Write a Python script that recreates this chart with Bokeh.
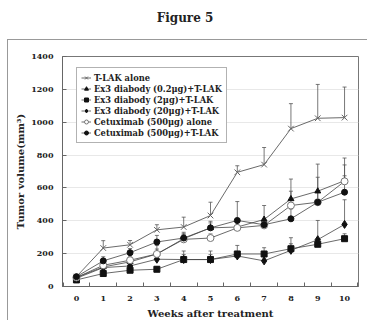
from bokeh.plotting import figure
from bokeh.layouts import column
from bokeh.models import Range1d, FixedTicker, Legend, LegendItem, Div
from bokeh.embed import file_html
from bokeh.resources import INLINE

weeks = list(range(11))
week_labels = [str(w) for w in weeks]
y_ticks = [0, 200, 400, 600, 800, 1000, 1200, 1400]

tlak_alone = [60, 234, 254, 345, 362, 432, 695, 742, 961, 1024, 1028]
tlak_alone_err = [10, 45, 26, 31, 60, 81, 40, 104, 152, 206, 186]

ex3_02 = [55, 119, 150, 198, 291, 357, 362, 408, 533, 580, 644]
ex3_02_err = [8, 20, 20, 52, 30, 30, 30, 85, 121, 165, 138]

ex3_2 = [40, 79, 99, 105, 164, 164, 198, 198, 230, 257, 291]
ex3_2_err = [8, 15, 12, 15, 52, 52, 52, 38, 67, 30, 30]

ex3_20 = [50, 115, 125, 166, 164, 164, 186, 156, 220, 285, 378]
ex3_20_err = [8, 20, 20, 25, 30, 30, 25, 25, 40, 117, 150]

cetux_alone = [55, 129, 160, 198, 287, 295, 357, 372, 493, 513, 640]
cetux_alone_err = [8, 20, 25, 30, 30, 25, 30, 30, 87, 60, 100]

cetux_tlak = [60, 156, 206, 271, 295, 357, 402, 376, 412, 513, 574]
cetux_tlak_err = [8, 25, 25, 40, 35, 40, 115, 30, 60, 152, 100]

FONT = "DejaVu Serif"

title_div = Div(
    text=("<div style=\"width:370px;text-align:center;padding-top:10px;font-family:'DejaVu Serif';"
          "font-weight:bold;font-size:12px;color:#222222;\">Figure 5</div>"),
    width=370, height=39, margin=0)

p = figure(width=360, height=281, output_backend="svg", toolbar_location=None,
           x_range=Range1d(-0.52, 10.52), y_range=Range1d(0, 1400),
           min_border_left=54, min_border_right=10, min_border_top=16, min_border_bottom=33)
p.margin = (0, 0, 0, 7)
p.styles = {"border-left": "1.5px solid #999999", "border-top": "1.5px solid #999999"}

p.background_fill_color = "white"
p.border_fill_color = "white"
p.outline_line_color = "#777777"
p.outline_line_width = 1

p.xgrid.grid_line_color = None
p.ygrid.grid_line_color = "#e8e8e8"
p.ygrid.ticker = FixedTicker(ticks=y_ticks)

p.xaxis.ticker = FixedTicker(ticks=weeks, minor_ticks=[w + 0.5 for w in range(-1, 11)])
p.xaxis.major_label_overrides = {w: l for w, l in zip(weeks, week_labels)}
p.xaxis.major_tick_in = 0
p.xaxis.major_tick_out = 0
p.xaxis.minor_tick_in = 4
p.xaxis.minor_tick_out = 0
p.xaxis.minor_tick_line_color = "#666666"
p.xaxis.major_label_standoff = 9
p.xaxis.axis_label = "Weeks after treatment"
p.xaxis.axis_label_standoff = 4

p.yaxis.ticker = FixedTicker(ticks=y_ticks)
p.yaxis.major_tick_in = 4
p.yaxis.major_tick_out = 0
p.yaxis.minor_tick_line_color = None
p.yaxis.major_label_standoff = 9
p.yaxis.axis_label = "Tumor volume(mm³)"
p.yaxis.axis_label_standoff = 2

for ax in (p.xaxis, p.yaxis):
    ax.axis_line_color = "#666666"
    ax.major_tick_line_color = "#666666"
    ax.major_label_text_font = FONT
    ax.major_label_text_font_size = "8px"
    ax.major_label_text_font_style = "bold"
    ax.major_label_text_color = "#222222"
    ax.axis_label_text_font = FONT
    ax.axis_label_text_font_size = "10px"
    ax.axis_label_text_font_style = "bold"
    ax.axis_label_text_color = "#222222"

series = [
    ("T-LAK alone", tlak_alone, tlak_alone_err, "x", 8, "#666666", "#666666"),
    ("Ex3 diabody (0.2μg)+T-LAK", ex3_02, ex3_02_err, "triangle", 6, "#111111", "#111111"),
    ("Ex3 diabody (2μg)+T-LAK", ex3_2, ex3_2_err, "square", 6, "#111111", "#111111"),
    ("Ex3 diabody (20μg)+T-LAK", ex3_20, ex3_20_err, "diamond", 8, "#111111", "#111111"),
    ("Cetuximab (500μg) alone", cetux_alone, cetux_alone_err, "circle", 7, "#777777", "white"),
    ("Cetuximab (500μg)+T-LAK", cetux_tlak, cetux_tlak_err, "circle", 6, "#111111", "#111111"),
]

for name, vals, errs, *_ in series:
    tops = [v + e for v, e in zip(vals, errs)]
    p.segment(x0=weeks, y0=vals, x1=weeks, y1=tops, line_color="#555555", line_width=0.8)
    p.scatter(x=weeks, y=tops, marker="dash", size=4, line_color="#555555", line_width=0.8)

items = []
for name, vals, errs, marker, size, lc, fc in series:
    lr = p.line(x=weeks, y=vals, line_color="#444444", line_width=0.8)
    sr = p.scatter(x=weeks, y=vals, marker=marker, size=size, line_color=lc,
                   fill_color=fc, line_width=1)
    items.append(LegendItem(label=name, renderers=[lr, sr]))

legend = Legend(items=items, location=(14, 143))
legend.label_text_font = FONT
legend.label_text_font_size = "8.3px"
legend.label_text_font_style = "bold"
legend.label_text_color = "#222222"
legend.border_line_color = "#666666"
legend.border_line_width = 1
legend.padding = 4
legend.margin = 0
legend.spacing = 0
legend.glyph_width = 10
legend.glyph_height = 11
legend.label_height = 11
legend.label_standoff = 3
legend.background_fill_alpha = 1
p.add_layout(legend)

layout = column(title_div, p, spacing=0)

open("out.html", "w").write(file_html(layout, INLINE))
